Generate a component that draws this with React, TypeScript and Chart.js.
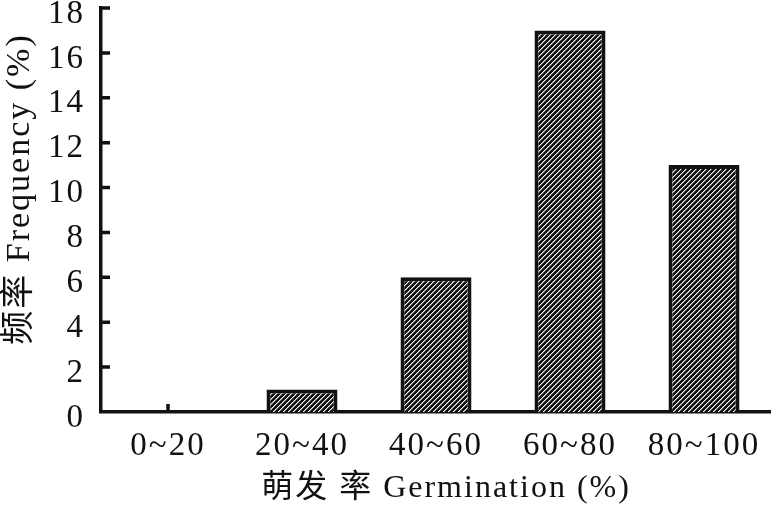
import React, { useEffect, useRef } from 'react';
import { Chart, registerables } from 'chart.js';

Chart.register(...registerables);

const categories = ['0~20', '20~40', '40~60', '60~80', '80~100'];
const frequency = [0, 1, 6, 17, 11];
const yMin = 0;
const yMax = 18;
const yStep = 2;
const xTitle = '  萌发 率 Germination (%)';
const yTitle = '    频率 Frequency (%)';

const FONT = "'Liberation Serif', 'Noto Sans CJK SC', serif";
const INK = '#111111';

function makeHatch(): CanvasPattern | string {
  const n = 5;
  const c = document.createElement('canvas');
  c.width = n;
  c.height = n;
  const g = c.getContext('2d');
  if (!g) return INK;
  g.fillStyle = '#121212';
  g.fillRect(0, 0, n, n);
  for (let i = 0; i < n; i++) {
    const y = n - 1 - i;
    g.fillStyle = '#ffffff';
    g.fillRect(i, y, 1, 1);
    g.fillStyle = '#7a7a7a';
    g.fillRect((i + 1) % n, y, 1, 1);
  }
  const p = g.createPattern(c, 'repeat');
  return p || INK;
}

const spacing = {
  id: 'spacing',
  beforeUpdate(chart: any) {
    chart.ctx.letterSpacing = '2px';
  },
  beforeDraw(chart: any) {
    chart.ctx.letterSpacing = '2px';
  },
};

const inwardTicks = {
  id: 'inwardTicks',
  beforeDatasetsDraw(chart: any) {
    const ctx = chart.ctx;
    const xs = chart.scales.x;
    const ys = chart.scales.y;
    const area = chart.chartArea;
    ctx.save();
    ctx.strokeStyle = INK;
    ctx.lineWidth = 3.5;
    ctx.beginPath();
    ys.ticks.forEach((t: any) => {
      if (t.value === yMin) return;
      const py = ys.getPixelForValue(t.value);
      ctx.moveTo(area.left, py);
      ctx.lineTo(area.left + 9, py);
    });
    categories.forEach((_, i) => {
      const px = xs.getPixelForValue(i);
      ctx.moveTo(px, area.bottom);
      ctx.lineTo(px, area.bottom - 8);
    });
    ctx.stroke();
    ctx.restore();
  },
};

export default function App() {
  const ref = useRef<HTMLCanvasElement | null>(null);

  useEffect(() => {
    document.body.style.margin = '0';
    const canvas = ref.current;
    if (!canvas) return;
    const chart = new Chart(canvas, {
      type: 'bar',
      data: {
        labels: categories,
        datasets: [
          {
            data: frequency,
            backgroundColor: makeHatch() as any,
            borderColor: INK,
            borderWidth: 4,
            borderSkipped: 'start',
            barPercentage: 0.53,
            categoryPercentage: 1,
          },
        ],
      },
      options: {
        responsive: false,
        animation: false,
        devicePixelRatio: 1,
        layout: { padding: { top: 8, right: 0, left: 0, bottom: 0 } },
        plugins: {
          legend: { display: false },
          tooltip: { enabled: false },
        },
        scales: {
          x: {
            offset: true,
            grid: { display: false, drawTicks: false },
            border: { display: true, color: INK, width: 3.5 },
            ticks: {
              color: INK,
              padding: 15,
              font: { family: FONT, size: 33 },
              maxRotation: 0,
              autoSkip: false,
            },
            title: {
              display: true,
              text: xTitle,
              color: INK,
              font: { family: FONT, size: 32 },
              padding: { top: 0, bottom: 0 },
            },
            afterFit(scale: any) {
              scale.height = 96;
              scale.paddingLeft = 0;
              scale.paddingRight = 0;
            },
          },
          y: {
            min: yMin,
            max: yMax,
            grid: { display: false, drawTicks: false },
            border: { display: true, color: INK, width: 3.5 },
            ticks: {
              stepSize: yStep,
              color: INK,
              padding: 16,
              labelOffset: 6,
              font: { family: FONT, size: 33 },
            },
            title: {
              display: true,
              text: yTitle,
              color: INK,
              font: { family: FONT, size: 34 },
              padding: { top: 0, bottom: 0 },
            },
            afterFit(scale: any) {
              scale.width = 101;
              scale.paddingTop = 0;
              scale.paddingBottom = 0;
            },
          },
        },
      },
      plugins: [spacing, inwardTicks],
    });
    return () => chart.destroy();
  }, []);

  return (
    <div style={{ width: 771, height: 508, background: '#ffffff' }}>
      <canvas ref={ref} width={771} height={508} style={{ display: 'block' }} />
    </div>
  );
}
